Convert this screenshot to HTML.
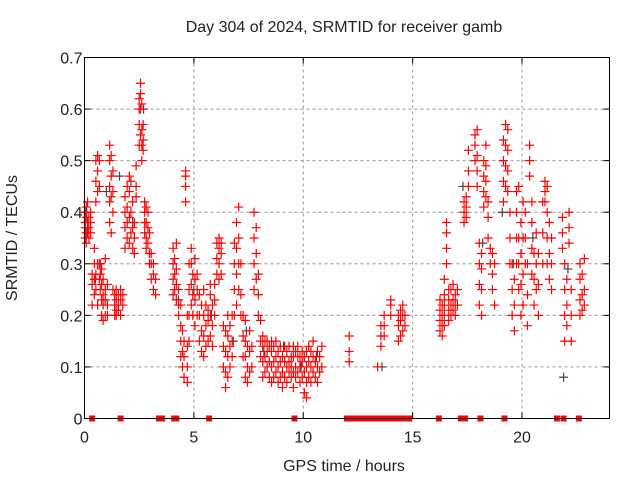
<!DOCTYPE html>
<html><head><meta charset="utf-8"><style>
body{margin:0;background:#fff;}
svg text{font-family:"Liberation Sans",sans-serif;font-size:16px;fill:#222;}
</style></head><body>
<svg id="chart" width="640" height="480" viewBox="0 0 640 480" xmlns="http://www.w3.org/2000/svg">
<g id="grid"></g>
<g id="axes"></g>
<g id="gray"></g>
<g id="red"></g>
<g id="zeros"></g>
<text x="344" y="32" text-anchor="middle">Day 304 of 2024, SRMTID for receiver gamb</text>
<text x="344" y="471" text-anchor="middle">GPS time / hours</text>
<text transform="translate(17,238) rotate(-90)" text-anchor="middle">SRMTID / TECUs</text>
<rect x="84.5" y="57.5" width="525" height="361" fill="none" stroke="#000" stroke-width="1"/>
</svg>
<script>
const xTicks=[0,5,10,15,20];
const yTicks=[0,0.1,0.2,0.3,0.4,0.5,0.6,0.7];
const yTickLabels=["0","0.1","0.2","0.3","0.4","0.5","0.6","0.7"];
const zeroHours=[0.35,1.65,3.4,3.55,4.1,4.2,5.7,9.6,12.0,12.15,12.3,12.45,12.6,12.75,12.9,13.05,13.2,13.35,13.5,13.65,13.8,13.95,14.1,14.25,14.4,14.55,14.7,14.85,16.2,17.2,17.4,18.1,19.2,21.6,21.9,22.6];
const clusterHours=[0.03,0.08,0.14,0.2,0.28,0.35,0.45,0.52,0.6,0.68,0.72,0.78,0.85,0.95,1.05,1.15,1.22,1.3,1.38,1.45,1.55,1.65,1.75,1.85,1.95,2.05,2.12,2.2,2.28,2.36,2.5,2.56,2.62,2.68,2.75,2.82,2.9,2.97,3.05,3.15,3.25,
4.05,4.12,4.2,4.3,4.4,4.48,4.55,4.62,4.7,4.78,4.88,4.95,5.05,5.15,5.25,5.35,5.45,5.55,5.65,5.75,5.85,5.95,6.05,6.15,6.25,6.35,6.45,6.55,6.65,6.75,6.85,6.95,7.05,7.15,7.25,7.35,7.45,7.55,7.65,7.75,7.85,7.95,8.05,8.15,8.25,8.35,8.45,8.55,8.65,8.75,8.85,8.95,9.05,9.15,9.25,9.35,9.45,9.55,9.65,9.75,9.85,9.95,10.05,10.15,10.25,10.35,10.45,10.55,10.65,10.75,10.85,
12.1,13.4,13.55,13.7,14.0,14.35,14.45,14.55,14.65,
16.25,16.35,16.45,16.55,16.65,16.75,16.85,16.95,17.05,17.35,17.45,17.55,17.85,17.95,18.05,18.15,18.25,18.35,18.45,18.55,18.65,18.75,19.15,19.25,19.35,19.45,19.55,19.65,19.75,19.85,19.95,20.05,20.15,20.25,20.35,20.45,20.55,20.65,20.75,20.95,21.05,21.15,21.25,21.35,21.85,21.95,22.05,22.15,22.25,22.65,22.75,22.85];
const clusterValues=[[0.35,0.37,0.38,0.4],[0.34,0.36,0.39,0.41],[0.36,0.37,0.38,0.42],[0.35,0.37,0.39],[0.38,0.4,0.36],[0.22,0.26,0.28],[0.24,0.27,0.3,0.33],[0.42,0.46,0.5,0.28,0.25],[0.44,0.48,0.51,0.3,0.22],[0.3,0.27,0.45,0.5],[0.25,0.28,0.3],
[0.2,0.23,0.26,0.29],[0.19,0.22,0.24,0.27],[0.2,0.23,0.25,0.31],[0.2,0.22,0.26],[0.42,0.45,0.5,0.53,0.38],[0.43,0.47,0.51,0.36],[0.44,0.48,0.4,0.25],[0.2,0.22,0.24],[0.21,0.23,0.25,0.2],[0.22,0.24,0.21],[0.2,0.23,0.25],[0.22,0.24],[0.33,0.37,0.4,0.43],[0.35,0.38,0.41,0.45],[0.34,0.39,0.44,0.47],[0.36,0.4,0.46],[0.33,0.37,0.42],[0.38,0.32,0.35],[0.45,0.49,0.43],
[0.53,0.57,0.6,0.62],[0.55,0.6,0.63,0.65],[0.5,0.53,0.56,0.61],[0.52,0.54,0.57],[0.38,0.4,0.42,0.36],[0.35,0.38,0.41,0.33],[0.34,0.37,0.4],[0.3,0.32,0.36],[0.27,0.3,0.32],[0.25,0.28,0.3],[0.24,0.27],
[0.24,0.27,0.3,0.33],[0.25,0.28,0.31],[0.23,0.26,0.29,0.34],[0.2,0.22,0.25],[0.12,0.15,0.18,0.22],[0.1,0.13,0.17],[0.08,0.12,0.15],[0.42,0.45,0.47,0.48],[0.07,0.1,0.14,0.2],[0.15,0.2,0.25,0.3],[0.22,0.26,0.3,0.33],[0.2,0.24,0.28],[0.18,0.23,0.27,0.31],[0.2,0.25,0.28],[0.15,0.2,0.24],[0.13,0.17,0.22],[0.12,0.16,0.2,0.25],[0.14,0.18,0.22],[0.15,0.19,0.21],[0.16,0.2,0.24,0.26],[0.14,0.18,0.22],[0.2,0.23,0.26],[0.28,0.31,0.34],[0.27,0.3,0.33,0.35],[0.28,0.32,0.34],[0.1,0.14,0.18],
[0.06,0.09,0.13,0.17],[0.08,0.12,0.16,0.2],[0.1,0.14,0.18],[0.12,0.15,0.2],[0.2,0.25,0.3,0.34],[0.22,0.28,0.33,0.38],[0.25,0.3,0.35,0.41],[0.2,0.24,0.3],[0.12,0.16,0.2],[0.08,0.12,0.15,0.19],[0.07,0.1,0.14],[0.09,0.13,0.17],[0.1,0.14],[0.25,0.3,0.35,0.4],[0.27,0.32,0.37],[0.2,0.24,0.28],[0.12,0.15,0.19],[0.08,0.11,0.14,0.16],[0.09,0.12,0.15],
[0.1,0.13,0.15],[0.08,0.11,0.14],[0.07,0.1,0.13,0.15],[0.08,0.11,0.14],[0.09,0.12,0.15],[0.07,0.1,0.13],[0.08,0.11,0.14],[0.06,0.09,0.12],[0.08,0.11,0.14],[0.07,0.1,0.13],[0.09,0.11,0.14],[0.08,0.1,0.12],[0.06,0.09,0.12,0.14],[0.08,0.1,0.13],[0.09,0.12,0.14],[0.07,0.1,0.12],[0.08,0.11,0.13],[0.05,0.09,0.12],[0.04,0.07,0.1,0.13],[0.08,0.11,0.14],[0.07,0.1,0.13],[0.09,0.12,0.15],[0.08,0.11],[0.07,0.1,0.13],[0.09,0.12],[0.1,0.14],
[0.11,0.13,0.16],[0.1],[0.14,0.16,0.18],[0.16,0.18,0.2],[0.2,0.22,0.23],[0.15,0.18,0.2],[0.16,0.19,0.21],[0.17,0.2,0.22],[0.18,0.2],
[0.17,0.19,0.21,0.23],[0.16,0.18,0.2,0.22],[0.18,0.2,0.22,0.24,0.27],[0.3,0.33,0.36,0.38],[0.19,0.21,0.23,0.25],[0.2,0.22,0.25],[0.21,0.23,0.26],[0.2,0.22,0.24],[0.22,0.25],[0.38,0.4,0.42],[0.39,0.41,0.43],[0.45,0.48,0.52],[0.5,0.53,0.55],[0.45,0.48,0.51,0.56],[0.22,0.26,0.3,0.34],[0.2,0.25,0.29,0.32],[0.41,0.44,0.47,0.5],[0.43,0.46,0.49,0.53],[0.35,0.39,0.42],[0.3,0.33],[0.25,0.28,0.32],[0.22,0.3],[0.42,0.46,0.5,0.54],[0.45,0.49,0.53,0.57],[0.44,0.48,0.52,0.56],[0.3,0.35,0.4],[0.2,0.25,0.3],[0.17,0.22,0.27],[0.3,0.35,0.4,0.44],[0.25,0.3,0.35,0.45],[0.2,0.26,0.32,0.38],[0.22,0.28,0.35,0.42],[0.3,0.35,0.4],[0.18,0.24,0.3],[0.47,0.5,0.53],[0.28,0.33,0.38,0.42],[0.22,0.27,0.32],[0.25,0.3,0.36],[0.2,0.26,0.32],[0.3,0.36,0.42],[0.42,0.44,0.46],[0.3,0.35,0.4,0.45],[0.27,0.32,0.38],[0.25,0.3,0.35],
[0.33,0.36,0.39],[0.15,0.2,0.25,0.3],[0.18,0.22,0.27],[0.34,0.37,0.4],[0.15,0.2,0.25],[0.2,0.23,0.27,0.3],[0.21,0.24,0.28],[0.22,0.25,0.31]];
const grayHours=[0.1,0.5,1.0,1.6,2.2,2.7,4.3,5.0,5.8,6.8,7.4,8.2,9.1,9.9,10.6,13.6,17.3,18.2,19.1,19.6,20.5,21.9,22.1];
const grayValues=[0.4,0.27,0.44,0.47,0.38,0.6,0.23,0.25,0.2,0.15,0.17,0.13,0.14,0.1,0.12,0.1,0.45,0.34,0.4,0.3,0.35,0.08,0.29];
const X0=84.5,X1=609.5,Y0=418.5,Y1=57.5;
const xs=h=>X0+(h/24)*(X1-X0);
const ys=v=>Y0-(v/0.7)*(Y0-Y1);
const NS="http://www.w3.org/2000/svg";
function mk(t,p,a){const e=document.createElementNS(NS,t);for(const k in a)e.setAttribute(k,a[k]);p.appendChild(e);return e;}
const grid=document.getElementById('grid'),axes=document.getElementById('axes');
xTicks.forEach(t=>{const x=xs(t);
 if(t>0){const g=mk('line',grid,{x1:x,x2:x,y1:Y1,y2:Y0,stroke:'#999','stroke-dasharray':'3,3'});
 
 }
 const l=mk('text',axes,{x:x,y:Y0+24,'text-anchor':'middle'});l.textContent=t;
 
 
 mk('line',axes,{x1:x,x2:x,y1:Y0,y2:Y0-6,stroke:'#000'});mk('line',axes,{x1:x,x2:x,y1:Y1,y2:Y1+6,stroke:'#000'});});
yTicks.forEach((t,i)=>{const y=ys(t);
 if(t>0&&t<0.7){const g=mk('line',grid,{x1:X0,x2:X1,y1:y,y2:y,stroke:'#999','stroke-dasharray':'3,3'});
 
 }
 const l=mk('text',axes,{x:X0-2,y:y+6,'text-anchor':'end'});l.textContent=yTickLabels[i];
 
 
 mk('line',axes,{x1:X0,x2:X0+6,y1:y,y2:y,stroke:'#000'});mk('line',axes,{x1:X1,x2:X1-6,y1:y,y2:y,stroke:'#000'});});
function plus(g,x,y,c,name){const p=mk('path',g,{d:`M${x-4.5} ${y}h9M${x} ${y-4.5}v9`,stroke:c,'stroke-width':1.2,fill:'none'});
 
 }
const gg=document.getElementById('gray'),rg=document.getElementById('red'),zg=document.getElementById('zeros');
grayHours.forEach((h,i)=>plus(gg,xs(h),ys(grayValues[i]),'#444','gray-point'));
clusterHours.forEach((h,i)=>(clusterValues[i]||[]).forEach(v=>plus(rg,xs(h),ys(v),'#f00','red-point')));
zeroHours.forEach(h=>{const r=mk('rect',zg,{x:xs(h)-3,y:Y0-3,width:6,height:6,fill:'#f00'});
 
 });
</script>
</body></html>
